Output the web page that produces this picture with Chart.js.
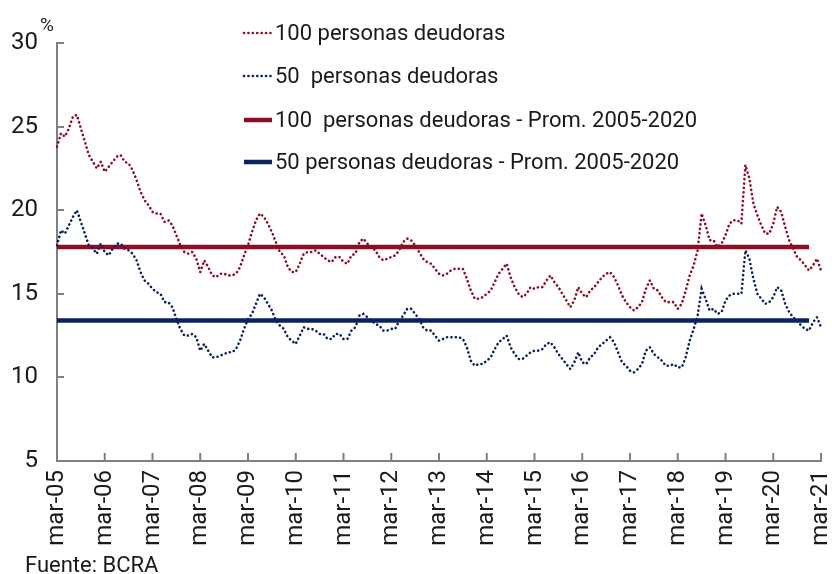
<!DOCTYPE html>
<html>
<head>
<meta charset="utf-8">
<script src="https://cdn.jsdelivr.net/npm/chart.js@4.4.1/dist/chart.umd.min.js"></script>
<style>
  html, body { margin: 0; padding: 0; background: #fff; }
  #wrap { position: relative; width: 832px; height: 574px; }
</style>
</head>
<body>
<div id="wrap"><canvas id="deudoresChart" width="832" height="574"></canvas></div>
<script>
// Datos (mensuales, mar-05 a mar-21)
const tickLabels = ['mar-05', 'mar-06', 'mar-07', 'mar-08', 'mar-09', 'mar-10', 'mar-11', 'mar-12',
  'mar-13', 'mar-14', 'mar-15', 'mar-16', 'mar-17', 'mar-18', 'mar-19', 'mar-20', 'mar-21'];
const meses = ['ene', 'feb', 'mar', 'abr', 'may', 'jun', 'jul', 'ago', 'sep', 'oct', 'nov', 'dic'];
const categories = [];
for (let i = 0; i < 193; i++) {
  const m = (2 + i) % 12;
  const a = 5 + Math.floor((2 + i) / 12);
  categories.push(meses[m] + '-' + String(a).padStart(2, '0'));
}

const deudoras100 = [
  23.8, 24.6, 24.4, 24.9, 25.6, 25.7, 24.9, 24.1, 23.3, 22.9, 22.5, 22.9,
  22.3, 22.6, 22.9, 23.2, 23.3, 22.9, 22.8, 22.4, 21.8, 21.1, 20.6, 20.3,
  19.9, 19.8, 19.8, 19.3, 19.4, 19.1, 18.5, 17.9, 17.5, 17.4, 17.5, 17.1,
  16.3, 17.0, 16.6, 16.1, 16.0, 16.2, 16.2, 16.1, 16.1, 16.2, 16.6, 17.3,
  17.9, 18.7, 19.4, 19.8, 19.6, 19.2, 18.7, 18.1, 17.5, 17.3, 16.6, 16.3,
  16.3, 16.8, 17.4, 17.5, 17.5, 17.6, 17.4, 17.2, 17.0, 16.9, 17.2, 17.2,
  16.9, 16.8, 17.3, 17.4, 18.1, 18.3, 18.0, 17.8, 17.6, 17.2, 17.0, 17.1,
  17.2, 17.3, 17.6, 18.1, 18.3, 18.2, 17.9, 17.5, 17.1, 16.9, 16.8, 16.5,
  16.2, 16.1, 16.2, 16.4, 16.5, 16.5, 16.5, 15.9, 15.2, 14.7, 14.7, 14.8,
  15.0, 15.2, 15.7, 16.2, 16.5, 16.8, 16.0, 15.4, 15.0, 14.8, 15.0, 15.4,
  15.3, 15.4, 15.4, 15.8, 16.1, 15.7, 15.4, 15.0, 14.6, 14.2, 14.6, 15.4,
  15.0, 14.8, 15.2, 15.4, 15.7, 16.0, 16.2, 16.3, 16.0, 15.5, 14.9, 14.5,
  14.2, 14.0, 14.2, 14.5, 15.3, 15.8, 15.3, 15.2, 14.8, 14.5, 14.5, 14.5,
  14.1, 14.4, 15.2, 16.1, 16.7, 17.6, 19.8, 19.1, 18.2, 18.2, 17.8, 18.0,
  18.5, 19.2, 19.4, 19.4, 19.2, 22.7, 21.9, 20.4, 19.7, 19.1, 18.6, 18.6,
  19.2, 20.2, 19.9, 19.0, 18.2, 17.7, 17.2, 17.0, 16.7, 16.4, 16.7, 17.1,
  16.4
];

const deudoras50 = [
  17.9, 18.8, 18.6, 19.1, 19.6, 20.0, 19.3, 18.6, 17.9, 17.7, 17.4, 18.0,
  17.5, 17.3, 17.7, 18.0, 18.0, 17.7, 17.6, 17.4, 17.0, 16.3, 15.8, 15.6,
  15.3, 15.1, 15.0, 14.5, 14.5, 14.2, 13.5, 12.9, 12.5, 12.5, 12.6, 12.4,
  11.6, 12.0, 11.6, 11.2, 11.2, 11.3, 11.4, 11.5, 11.5, 11.7, 12.2, 12.9,
  13.5, 13.8, 14.4, 15.0, 14.8, 14.4, 14.0, 13.4, 13.1, 12.9, 12.4, 12.2,
  12.0, 12.5, 13.0, 12.9, 12.9, 12.8, 12.6, 12.6, 12.3, 12.3, 12.6, 12.6,
  12.3, 12.3, 12.8, 13.0, 13.7, 13.8, 13.6, 13.4, 13.2, 13.1, 12.8, 12.8,
  12.9, 12.9, 13.4, 13.7, 14.1, 14.1, 13.8, 13.5, 13.0, 12.8, 12.8, 12.5,
  12.2, 12.3, 12.4, 12.4, 12.4, 12.4, 12.3, 11.8, 11.0, 10.7, 10.8, 10.8,
  11.0, 11.2, 11.7, 12.1, 12.3, 12.5, 11.8, 11.4, 11.1, 11.1, 11.3, 11.5,
  11.6, 11.6, 11.7, 12.0, 12.1, 11.8, 11.4, 11.1, 10.8, 10.5, 10.9, 11.5,
  10.9, 10.8, 11.2, 11.4, 11.8, 12.0, 12.2, 12.4, 12.1, 11.5, 10.9, 10.7,
  10.4, 10.3, 10.5, 10.8, 11.6, 11.8, 11.4, 11.2, 11.0, 10.7, 10.7, 10.8,
  10.6, 10.6, 11.2, 12.2, 12.9, 13.7, 15.3, 14.7, 14.0, 14.1, 13.8, 13.9,
  14.6, 14.9, 15.0, 15.0, 15.0, 17.6, 17.1, 15.9, 15.0, 14.7, 14.4, 14.5,
  14.8, 15.4, 15.2, 14.4, 13.9, 13.6, 13.4, 13.1, 12.9, 12.8, 13.3, 13.6,
  13.0
];

// Promedios 2005-2020 (hasta dic-20)
const prom100 = 17.8;
const prom50 = 13.4;
const promDesde = 'mar-05';
const promHasta = 'dic-20';

const rojo = '#8e0c24';
const azul = '#0b2260';
const ejeColor = '#7f7f7f';
const textoColor = '#1a1a1a';

const axisFont = { family: 'Roboto', size: 24 };
const dots = [0.1, 4.3];

// Leyenda, marcas internas y textos sueltos
const extras = {
  id: 'extras',
  afterDraw(chart) {
    const ctx = chart.ctx;
    const area = chart.chartArea;
    const x = chart.scales.x, y = chart.scales.y;
    ctx.save();

    // marcas hacia adentro
    ctx.strokeStyle = ejeColor;
    ctx.lineWidth = 2;
    y.ticks.forEach(t => {
      const py = Math.round(y.getPixelForValue(t.value));
      ctx.beginPath();
      ctx.moveTo(area.left, py);
      ctx.lineTo(area.left + 7, py);
      ctx.stroke();
    });
    x.ticks.forEach(t => {
      const px = x.getPixelForValue(t.value);
      ctx.beginPath();
      ctx.moveTo(px, area.bottom);
      ctx.lineTo(px, area.bottom - 8);
      ctx.stroke();
    });

    // leyenda
    const items = [
      { i: 0, yy: 33 },
      { i: 1, yy: 76 },
      { i: 2, yy: 120 },
      { i: 3, yy: 162 }
    ];
    ctx.font = '22px Roboto';
    ctx.textBaseline = 'middle';
    ctx.textAlign = 'left';
    items.forEach(it => {
      const ds = chart.data.datasets[it.i];
      ctx.strokeStyle = ds.borderColor;
      ctx.lineWidth = ds.borderWidth;
      ctx.lineCap = ds.borderDash ? 'round' : 'butt';
      ctx.setLineDash(ds.borderDash || []);
      ctx.beginPath();
      ctx.moveTo(244, it.yy);
      ctx.lineTo(272, it.yy);
      ctx.stroke();
      ctx.setLineDash([]);
      ctx.fillStyle = textoColor;
      ctx.fillText(ds.label, 275, it.yy + 1);
    });

    // "%" y fuente
    ctx.fillStyle = textoColor;
    ctx.font = '19px Roboto';
    ctx.textBaseline = 'alphabetic';
    ctx.fillText('%', 40, 31);
    ctx.font = '22px Roboto';
    ctx.fillText('Fuente: BCRA', 25, 572);
    ctx.restore();
  }
};

const ctx = document.getElementById('deudoresChart').getContext('2d');
new Chart(ctx, {
  type: 'line',
  data: {
    labels: categories,
    datasets: [{
      label: '100 personas deudoras',
      data: deudoras100,
      borderColor: rojo,
      borderWidth: 2.6,
      borderDash: dots,
      borderCapStyle: 'round',
      pointRadius: 0,
      order: 0
    }, {
      label: '50  personas deudoras',
      data: deudoras50,
      borderColor: azul,
      borderWidth: 2.6,
      borderDash: dots,
      borderCapStyle: 'round',
      pointRadius: 0,
      order: 0
    }, {
      label: '100  personas deudoras - Prom. 2005-2020',
      data: [{ x: promDesde, y: prom100 }, { x: promHasta, y: prom100 }],
      borderColor: rojo,
      borderWidth: 4.5,
      pointRadius: 0,
      order: 1
    }, {
      label: '50 personas deudoras - Prom. 2005-2020',
      data: [{ x: promDesde, y: prom50 }, { x: promHasta, y: prom50 }],
      borderColor: azul,
      borderWidth: 4.5,
      pointRadius: 0,
      order: 1
    }]
  },
  options: {
    responsive: false,
    animation: false,
    layout: { padding: { top: 43, right: 11, left: 0, bottom: 0 } },
    plugins: { legend: { display: false }, tooltip: { enabled: false } },
    scales: {
      x: {
        type: 'category',
        offset: false,
        grid: { display: false, drawTicks: false },
        border: { color: ejeColor, width: 2 },
        afterBuildTicks: s => { s.ticks = s.ticks.filter(t => t.value % 12 === 0); },
        afterFit: s => { s.height = 113; s.paddingLeft = 0; s.paddingRight = 0; },
        ticks: {
          autoSkip: false,
          maxRotation: 90,
          minRotation: 90,
          padding: 9,
          color: textoColor,
          font: axisFont,
          callback: v => tickLabels[v / 12]
        }
      },
      y: {
        min: 5,
        max: 30,
        grid: { display: false, drawTicks: false },
        border: { color: ejeColor, width: 2 },
        afterFit: s => { s.width = 57; s.paddingTop = 0; s.paddingBottom = 0; },
        ticks: {
          stepSize: 5,
          padding: 19,
          color: textoColor,
          font: axisFont
        }
      }
    }
  },
  plugins: [extras]
});
</script>
</body>
</html>
